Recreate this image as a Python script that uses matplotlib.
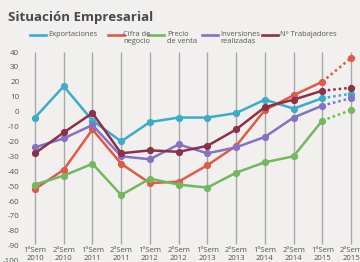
import matplotlib
matplotlib.use("Agg")
import matplotlib.pyplot as plt
from matplotlib.lines import Line2D

# semesters 1ºSem 2010 ... 2ºSem 2015
periods = [f"{s}ºSem\n{y}" for y in range(2010, 2016) for s in (1, 2)]

exportaciones = [-4, 17, -6, -20, -7, -4, -4, -1, 8, 2, 9, 12]
cifra_negocio = [-52, -39, -12, -35, -48, -47, -36, -23, 1, 11, 20, 36]
precio_venta = [-49, -43, -35, -56, -45, -49, -51, -41, -34, -30, -6, 1]
inversiones = [-24, -18, -9, -30, -32, -22, -28, -24, -17, -4, 4, 9]
trabajadores = [-28, -14, -1, -28, -26, -27, -23, -12, 3, 8, 14, 16]

series = [
    ("Exportaciones", exportaciones, "#3aaccc"),
    ("Cifra de\nnegocio", cifra_negocio, "#e05a48"),
    ("Precio\nde venta", precio_venta, "#72b85e"),
    ("Inversiones\nrealizadas", inversiones, "#8472c4"),
    ("Nº Trabajadores", trabajadores, "#8e2f4c"),
]

W, H = 360, 262
bg = "#f1f0ee"
fig = plt.figure(figsize=(W / 100, H / 100), dpi=100, facecolor=bg)

# axes placed so that 40 sits at y=52px and -100 near the bottom edge
left_px, top_px = 22, 46
ax = fig.add_axes([left_px / W, 0, 1 - left_px / W, 1 - top_px / H])
ax.set_facecolor(bg)
px_per_x = 28.73
px_per_unit = 1.49
ax.set_xlim(-(35 - left_px) / px_per_x, (W - 35) / px_per_x)
ax.set_ylim(40 - (H - 52) / px_per_unit, 40 + (52 - top_px) / px_per_unit)

x = list(range(len(periods)))
ax.vlines(x, -89, 40, color="#a8a8a8", lw=1.0, zorder=1)

for label, vals, color in series:
    ax.plot(x[:-1], vals[:-1], color=color, lw=1.8, marker="o", ms=4.2,
            solid_joinstyle="round", zorder=3)
    ax.plot(x[-2:], vals[-2:], color=color, lw=1.8, ls=(0, (1, 1.2)), zorder=3)
    ax.plot(x[-1], vals[-1], color=color, marker="o", ms=4.2, zorder=3)

for xi, p in zip(x, periods):
    ax.text(xi, -96, p, ha="center", va="center", fontsize=5.6,
            color="#555555", linespacing=1.1, family="Open Sans")

ax.set_yticks(range(40, -101, -10))
ax.set_yticklabels([str(v) for v in range(40, -101, -10)],
                   fontsize=5.8, color="#555555", family="Open Sans")
ax.tick_params(axis="y", length=0, pad=2)
ax.set_xticks([])
for s in ax.spines.values():
    s.set_visible(False)

fig.text(8 / W, 1 - 17 / H, "Situación Empresarial", fontsize=9.6,
         fontweight="bold", color="#4a4a4a", va="center", family="Open Sans")

# legend drawn by hand: line at first text line
legend_pos = [(30, 48), (108, 123), (148, 167), (202, 220), (262, 280)]
for (lx, tx), (label, vals, color) in zip(legend_pos, series):
    y = 1 - 35 / H
    fig.add_artist(Line2D([lx / W, (lx + 16) / W], [y, y], color=color, lw=1.9))
    fig.text(tx / W, 1 - 31 / H, label, fontsize=5.4, color="#555555",
             va="top", ha="left", linespacing=1.0, family="Open Sans")

fig.savefig("out.png", dpi=100, facecolor=bg)
